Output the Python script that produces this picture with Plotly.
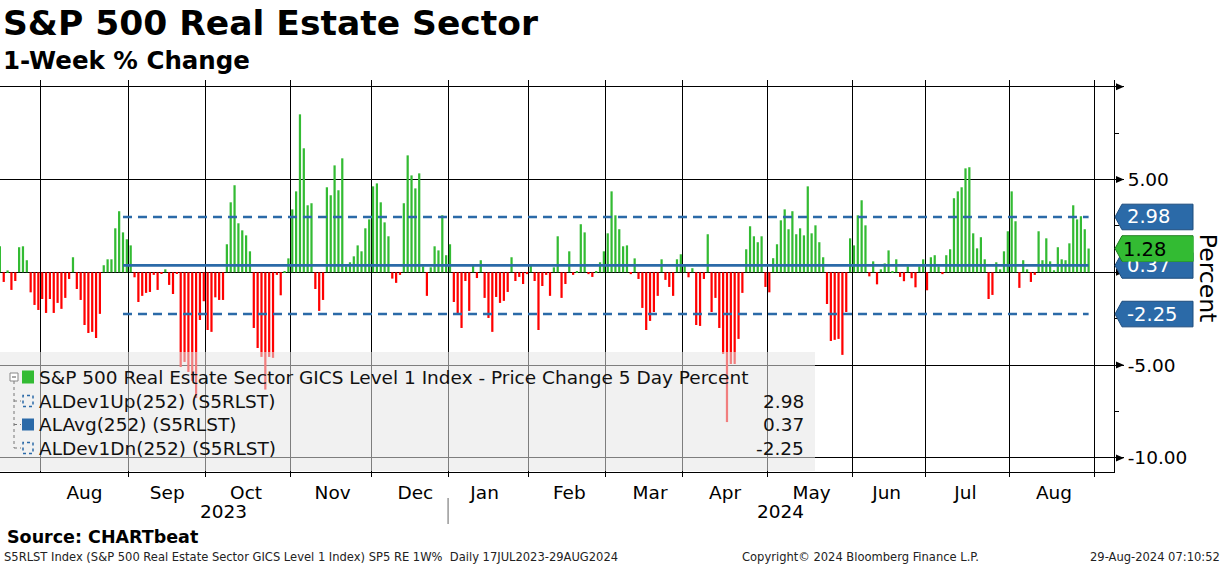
import pandas as pd
import plotly.graph_objects as go

# ---------------- data ----------------
holidays = ["2023-09-04", "2023-11-23", "2023-12-25", "2024-01-01", "2024-01-15",
            "2024-02-19", "2024-03-29", "2024-05-27", "2024-06-19", "2024-07-04"]

m2023_07 = [1.40, -0.52, 0.10, -0.95, -0.47, 1.35, 1.40, 0.65, -1.08, -1.76, -2.03]
m2023_08 = [-1.44, -2.19, -1.44, -2.19, -1.65, -1.97, -1.38, -0.36, 0.81, -0.90, -1.49, -2.84,
            -3.27, -3.21, -3.54, -2.24, 0.38, 0.70, 0.70, 2.37, 3.29, 2.15, 1.78]
m2023_09 = [1.45, -0.27, -1.60, -1.27, -1.11, -1.06, -0.14, -0.95, -0.05, 0.16, -0.68, -1.17,
            -0.05, -5.10, -4.83, -5.37, -5.85, -6.77, -2.57, -1.56]
m2023_10 = [-3.11, -3.21, -1.35, -1.49, -1.49, 1.51, 3.77, 4.69, 2.64, 2.26, 1.99, 1.13,
            -3.00, -4.08, -4.56, -6.32, -4.56, -4.61, -0.14, -1.24, 0.05, 0.75]
m2023_11 = [3.39, 4.36, 8.51, 6.68, 3.61, 3.72, -0.90, -2.08, -1.49, 4.58, 4.15, 5.76,
            4.42, 6.14, 0.32, 0.54, 0.86, 1.45, 1.13, 2.37, 2.85]
m2023_12 = [4.63, 4.79, 3.77, 2.69, 1.94, -0.34, -0.57, -0.14, 3.72, 6.30, 5.22, 4.52,
            5.33, 0.32, -1.27, 0.27, 1.40, 1.18, 3.07, 0.92]
m2024_01 = [1.51, -1.60, -2.30, -3.00, -0.47, -2.08, 0.34, -0.31, 0.65, -1.38, -2.46, -3.21,
            -1.33, -1.65, -1.54, -1.06, 0.81, -0.47, -0.25, -0.63, -0.10]
m2024_02 = [0.35, -0.47, -3.11, -0.74, -0.14, -1.27, 0.27, 1.94, -1.38, -0.63, 1.13, -0.14,
            0.03, 2.59, 2.15, -0.10, -0.25, 0.02, 0.54, 1.13]
m2024_03 = [2.10, 4.36, 3.07, 2.32, 1.40, 1.45, -0.10, 0.75, -0.36, -1.92, -3.11, -2.62,
            -2.14, -1.27, 0.70, -0.41, -0.79, -1.27, 0.70, 0.97]
m2024_04 = [0.38, -0.27, 0.22, -2.84, -2.89, -0.36, 2.05, -2.14, -1.38, -3.00, -4.40, -8.07,
            -4.94, -4.94, -3.59, -1.11, 1.24, 2.48, 1.94, 1.62, 1.94, -0.79]
m2024_05 = [-1.08, 0.76, 1.51, 2.80, 3.39, 2.32, 3.29, 2.05, 2.37, 1.99, 4.63, 2.10,
            2.53, 1.62, 0.81, -1.71, -3.70, -3.64, -3.59, -4.45, -2.14, 1.83]
m2024_06 = [1.45, 3.07, 3.88, 2.53, -0.22, 0.59, -0.65, 0.16, 0.48, 1.18, 0.05, 0.70,
            -0.25, -0.48, 0.32, -0.32, -0.81, 0.32, 0.70]
m2024_07 = [-0.97, 0.81, 0.92, 0.32, -0.10, 0.92, 1.24, 3.99, 4.36, 4.58, 5.60, 5.66,
            2.10, 1.29, 1.89, 0.70, -1.44, -1.22, 0.54, 0.16, 1.13, 2.21]
m2024_08 = [4.36, 2.75, -0.84, 0.65, 0.16, -0.52, -0.14, 2.21, 0.65, 1.83, 0.59, 0.11,
            1.35, 0.70, 0.65, 1.56, 3.61, 2.85, 3.02, 2.32, 1.28]

pct_change = (m2023_07 + m2023_08 + m2023_09 + m2023_10 + m2023_11 + m2023_12 +
              m2024_01 + m2024_02 + m2024_03 + m2024_04 + m2024_05 + m2024_06 +
              m2024_07 + m2024_08)

series_name = "S&P 500 Real Estate Sector GICS Level 1 Index - Price Change 5 Day Percent"
stat_names = ["ALDev1Up(252) (S5RLST)", "ALAvg(252) (S5RLST)", "ALDev1Dn(252) (S5RLST)"]
dev_up = 2.98
avg = 0.37
dev_dn = -2.25
lookback = 252

ytick_vals = [10, 5, 0, -5, -10]
ytick_text = ["", "5.00", "", "-5.00", "-10.00"]
minor_vals = [7.5, 2.5, -2.5, -7.5]
year_labels = ["2023", "2024"]

dates = pd.bdate_range("2023-07-17", "2024-08-29", freq="C", holidays=holidays)
assert len(dates) == len(pct_change), (len(dates), len(pct_change))
xs = dates + pd.Timedelta(hours=12)
last_val = pct_change[-1]

# ---------------- style ----------------
FONT = "DejaVu Sans"
GREEN = "#33bb33"
RED = "#ff0000"
BLUE = "#2b6aa8"
BLUE_EDGE = "#1d4c7c"

W, H = 1224, 566
ML, MR, MT, MB = 0, 110, 80, 94
PW = W - ML - MR
PH = H - MT - MB
UNIT = PH / (10.36 + 10.76)  # px per y unit


def fx(p):
    return (p - ML) / PW


def fy(p):
    return (H - MB - p) / PH


colors = [GREEN if v >= 0 else RED for v in pct_change]

fig = go.Figure()
fig.add_trace(go.Bar(x=xs, y=pct_change, marker=dict(color=colors, line=dict(width=0)),
                     width=0.58 * 86400000, showlegend=False, hoverinfo="skip"))
span = [xs[-lookback], xs[-1]]
for val, dash in [(dev_up, "9px,6px"), (avg, "solid"), (dev_dn, "9px,6px")]:
    fig.add_trace(go.Scatter(x=span, y=[val, val], mode="lines",
                             line=dict(color=BLUE, width=2.6, dash=dash),
                             showlegend=False, hoverinfo="skip"))

shapes = []
annotations = []

# arrow heads on major y ticks
for v in ytick_vals:
    h = 3.5 / UNIT
    shapes.append(dict(type="path", xref="paper", yref="y",
                       path=f"M {fx(1116)},{v + h} L {fx(1124)},{v} L {fx(1116)},{v - h} Z",
                       fillcolor="black", line=dict(width=0), layer="above"))

# value tags on the right
def tag_path(v):
    hh = 12.8 / UNIT
    x0, x1, x2 = fx(1115), fx(1122), fx(1193)
    return (f"M {x0},{v} L {x1},{v + hh} L {x2},{v + hh} L {x2},{v - hh} "
            f"L {x1},{v - hh} Z")

for v, fill, edge in [(avg, BLUE, BLUE_EDGE), (dev_up, BLUE, BLUE_EDGE),
                      (dev_dn, BLUE, BLUE_EDGE), (last_val, GREEN, "#1f7a1f")]:
    shapes.append(dict(type="path", xref="paper", yref="y", path=tag_path(v),
                       fillcolor=fill, line=dict(color=edge, width=1), layer="above"))

tag_font = dict(family=FONT, size=19.5, color="white")
annotations.append(dict(x=fx(1125), y=avg, xref="paper", yref="y", xanchor="left",
                        yanchor="middle", text=f"{avg:.2f}", showarrow=False, font=tag_font))
annotations.append(dict(x=fx(1125), y=dev_up, xref="paper", yref="y", xanchor="left",
                        yanchor="middle", text=f"{dev_up:.2f}", showarrow=False, font=tag_font))
annotations.append(dict(x=fx(1125), y=dev_dn, xref="paper", yref="y", xanchor="left",
                        yanchor="middle", text=f"{dev_dn:.2f}", showarrow=False, font=tag_font))
annotations.append(dict(x=fx(1122), y=last_val, xref="paper", yref="y", xanchor="left",
                        yanchor="middle", text=f"{last_val:.2f}", showarrow=False,
                        width=70, height=24, align="left", bgcolor=GREEN, borderpad=0,
                        font=dict(family=FONT, size=19.5, color="black")))
annotations.append(dict(x=fx(1208), y=-0.3, xref="paper", yref="y", text="Percent",
                        textangle=90, showarrow=False, xanchor="center", yanchor="middle",
                        font=dict(family=FONT, size=23.5, color="black")))

# legend box
shapes.append(dict(type="rect", xref="paper", yref="paper", x0=fx(0), x1=fx(815),
                   y0=fy(471), y1=fy(352), fillcolor="rgba(229,229,229,0.55)",
                   line=dict(width=0), layer="above"))
rows = [377, 401, 424.5, 448]
# tree
shapes.append(dict(type="line", xref="paper", yref="paper", x0=fx(14), x1=fx(14),
                   y0=fy(381), y1=fy(448), line=dict(color="#777777", width=1, dash="dot"),
                   layer="above"))
for r in rows[1:]:
    shapes.append(dict(type="line", xref="paper", yref="paper", x0=fx(14), x1=fx(21),
                       y0=fy(r), y1=fy(r), line=dict(color="#777777", width=1, dash="dot"),
                       layer="above"))
shapes.append(dict(type="rect", xref="paper", yref="paper", x0=fx(10), x1=fx(18),
                   y0=fy(381), y1=fy(373), fillcolor="white",
                   line=dict(color="#888888", width=1), layer="above"))
shapes.append(dict(type="line", xref="paper", yref="paper", x0=fx(12), x1=fx(16),
                   y0=fy(377), y1=fy(377), line=dict(color="#555555", width=1), layer="above"))
# icons
shapes.append(dict(type="rect", xref="paper", yref="paper", x0=fx(22), x1=fx(34),
                   y0=fy(383.5), y1=fy(370.5), fillcolor=GREEN, line=dict(width=0), layer="above"))
for r in (rows[1], rows[3]):
    shapes.append(dict(type="rect", xref="paper", yref="paper", x0=fx(23), x1=fx(33),
                       y0=fy(r + 5.5), y1=fy(r - 5.5), fillcolor="rgba(0,0,0,0)",
                       line=dict(color=BLUE, width=1.5, dash="3px,3px"), layer="above"))
shapes.append(dict(type="rect", xref="paper", yref="paper", x0=fx(22), x1=fx(34),
                   y0=fy(rows[2] + 6), y1=fy(rows[2] - 6), fillcolor=BLUE,
                   line=dict(width=0), layer="above"))

leg_font = dict(family=FONT, size=18.5, color="#111111")
for r, txt in zip(rows, [series_name] + stat_names):
    annotations.append(dict(x=fx(37), y=fy(r), xref="paper", yref="paper", xanchor="left",
                            yanchor="middle", text=txt, showarrow=False, font=leg_font))
for r, v in zip(rows[1:], [dev_up, avg, dev_dn]):
    annotations.append(dict(x=fx(806), y=fy(r), xref="paper", yref="paper", xanchor="right",
                            yanchor="middle", text=f"{v:.2f}", showarrow=False, font=leg_font))

# year labels and separator
annotations.append(dict(x=fx(223), y=fy(511), xref="paper", yref="paper", text=year_labels[0],
                        showarrow=False, xanchor="center", yanchor="middle",
                        font=dict(family=FONT, size=18.5, color="black")))
annotations.append(dict(x=fx(780), y=fy(511), xref="paper", yref="paper", text=year_labels[1],
                        showarrow=False, xanchor="center", yanchor="middle",
                        font=dict(family=FONT, size=18.5, color="black")))
shapes.append(dict(type="line", xref="x", yref="paper", x0="2024-01-01", x1="2024-01-01",
                   y0=fy(498), y1=fy(524), line=dict(color="#666666", width=1)))

# titles
annotations.append(dict(x=fx(1), y=fy(23), xref="paper", yref="paper", xanchor="left",
                        yanchor="middle", text="<b>S&P 500 Real Estate Sector</b>", showarrow=False,
                        font=dict(family=FONT, size=34.5, color="black")))
annotations.append(dict(x=fx(1), y=fy(60), xref="paper", yref="paper", xanchor="left",
                        yanchor="middle", text="<b>1-Week % Change</b>", showarrow=False,
                        font=dict(family=FONT, size=24.5, color="black")))
# footer
annotations.append(dict(x=fx(5), y=fy(537), xref="paper", yref="paper", xanchor="left",
                        yanchor="middle", text="<b>Source: CHARTbeat</b>", showarrow=False,
                        font=dict(family=FONT, size=17.5, color="black")))
small = dict(family="DejaVu Sans Condensed, DejaVu Sans", size=12.8, color="#222222")
annotations.append(dict(x=fx(2), y=fy(556), xref="paper", yref="paper", xanchor="left",
                        yanchor="middle",
                        text="S5RLST Index (S&P 500 Real Estate Sector GICS Level 1 Index) SP5 RE 1W%  Daily 17JUL2023-29AUG2024",
                        showarrow=False, font=small))
annotations.append(dict(x=fx(860), y=fy(556), xref="paper", yref="paper", xanchor="center",
                        yanchor="middle", text="Copyright\u00a9 2024 Bloomberg Finance L.P.",
                        showarrow=False, font=small))
annotations.append(dict(x=fx(1222), y=fy(556), xref="paper", yref="paper", xanchor="right",
                        yanchor="middle", text="29-Aug-2024 07:10:52", showarrow=False, font=small))

fig.update_layout(
    width=W, height=H, margin=dict(l=ML, r=MR, t=MT, b=MB, pad=0),
    paper_bgcolor="white", plot_bgcolor="white", showlegend=False,
    shapes=shapes, annotations=annotations, font=dict(family=FONT, color="black"),
)
fig.update_xaxes(type="date", range=["2023-07-17 12:43", "2024-09-09 02:24"],
                 rangebreaks=[dict(bounds=["sat", "mon"]), dict(values=holidays)],
                 dtick="M1", tick0="2023-08-01", tickformat="%b", ticklabelmode="period",
                 showgrid=True, gridcolor="black", gridwidth=1, zeroline=False,
                 showline=True, linecolor="black", linewidth=1, ticks="outside", ticklen=4,
                 tickcolor="black", tickfont=dict(family=FONT, size=18.5, color="black"),
                 fixedrange=True)
fig.update_yaxes(side="right", range=[-10.76, 10.36], tickmode="array", tickvals=ytick_vals,
                 ticktext=ytick_text, showgrid=True, gridcolor="black", gridwidth=1,
                 zeroline=False, showline=True, linecolor="black", linewidth=1,
                 ticks="outside", ticklen=9, tickcolor="black",
                 tickfont=dict(family=FONT, size=18.5, color="black"),
                 minor=dict(tickmode="array", tickvals=minor_vals, ticks="outside", ticklen=4,
                            tickcolor="black", showgrid=False),
                 fixedrange=True)

fig.write_html("out.html", config={"displayModeBar": False},
               post_script="document.body.style.margin='0px';document.body.style.overflow='hidden';")
